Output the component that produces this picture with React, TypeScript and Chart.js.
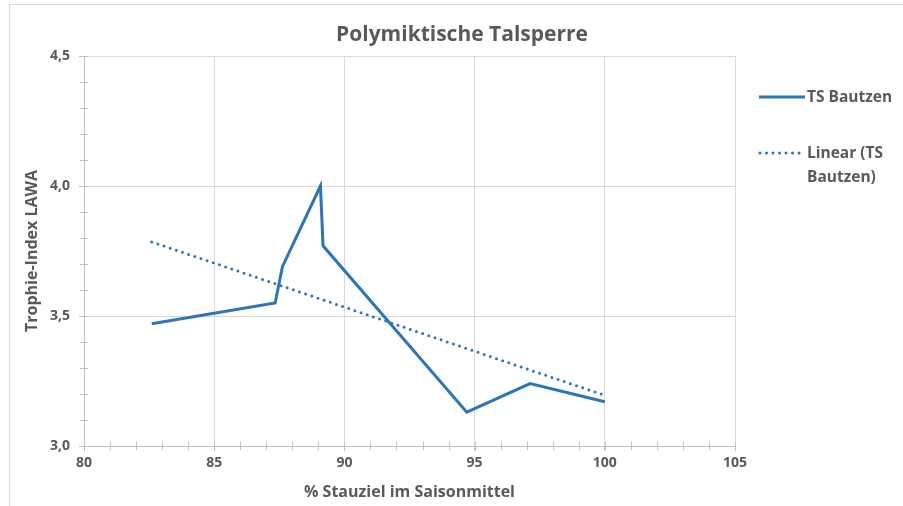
import React, { useEffect, useRef } from "react";
import { Chart, registerables } from "chart.js";

Chart.register(...registerables);

const TITLE = "Polymiktische Talsperre";
const X_TITLE = "% Stauziel im Saisonmittel";
const Y_TITLE = "Trophie-Index LAWA";
const SERIES_LABEL = "TS Bautzen";
const TREND_LABEL = ["Linear (TS", "Bautzen)"];

const stauziel = [82.6, 87.34, 87.62, 89.08, 89.18, 94.7, 97.13, 100.0];
const trophie = [3.47, 3.55, 3.69, 4.0, 3.77, 3.13, 3.24, 3.17];
const trendX = [82.6, 100.0];
const trendY = [3.785, 3.195];

const X_MIN = 80;
const X_MAX = 105;
const X_STEP = 5;
const X_MINOR = 1;
const Y_MIN = 3;
const Y_MAX = 4.5;
const Y_STEP = 0.5;
const Y_MINOR = 0.1;

const BLUE = "#2e75b6";
const TEXT = "#595959";
const GRID = "#d9d9d9";
const AXIS = "#bfbfbf";
const FONT = "'Open Sans', sans-serif";

const decorPlugin = {
  id: "decor",
  beforeDraw(chart: any) {
    const ctx = chart.ctx;
    ctx.save();
    ctx.fillStyle = "#ffffff";
    ctx.fillRect(0, 0, chart.width, chart.height);
    ctx.strokeStyle = GRID;
    ctx.lineWidth = 1;
    ctx.beginPath();
    ctx.moveTo(9.5, chart.height);
    ctx.lineTo(9.5, 4.5);
    ctx.lineTo(chart.width, 4.5);
    ctx.stroke();
    ctx.restore();
  },
  afterDraw(chart: any) {
    const ctx = chart.ctx;
    const xs = chart.scales.x;
    const ys = chart.scales.y;
    const area = chart.chartArea;
    ctx.save();
    // minor ticks
    ctx.strokeStyle = AXIS;
    ctx.lineWidth = 1;
    ctx.beginPath();
    const nY = Math.round((Y_MAX - Y_MIN) / Y_MINOR);
    for (let i = 0; i <= nY; i++) {
      const v = Y_MIN + i * Y_MINOR;
      const py = Math.round(ys.getPixelForValue(v)) + 0.5;
      ctx.moveTo(area.left - 4, py);
      ctx.lineTo(area.left + 4, py);
    }
    const nX = Math.round((X_MAX - X_MIN) / X_MINOR);
    for (let i = 0; i <= nX; i++) {
      const v = X_MIN + i * X_MINOR;
      const px = Math.round(xs.getPixelForValue(v)) + 0.5;
      ctx.moveTo(px, area.bottom - 4);
      ctx.lineTo(px, area.bottom + 4);
    }
    ctx.stroke();

    // title
    ctx.fillStyle = TEXT;
    ctx.font = `bold 21px ${FONT}`;
    ctx.textAlign = "center";
    ctx.textBaseline = "middle";
    ctx.fillText(TITLE, 462, 35);

    // legend
    const lx0 = 759;
    const lx1 = 805;
    ctx.font = `bold 15.5px ${FONT}`;
    ctx.textAlign = "left";
    ctx.lineWidth = 3;
    ctx.strokeStyle = BLUE;
    ctx.beginPath();
    ctx.moveTo(lx0, 97);
    ctx.lineTo(lx1, 97);
    ctx.stroke();
    ctx.fillText(SERIES_LABEL, 807, 98);

    ctx.lineCap = "round";
    ctx.setLineDash([0, 6.5]);
    ctx.beginPath();
    ctx.moveTo(lx0 + 1, 153);
    ctx.lineTo(lx1, 153);
    ctx.stroke();
    ctx.setLineDash([]);
    TREND_LABEL.forEach((t, i) => ctx.fillText(t, 807, 154 + i * 24));
    ctx.restore();
  },
};

export default function App() {
  const ref = useRef<HTMLCanvasElement | null>(null);

  useEffect(() => {
    document.body.style.margin = "0";
    const canvas = ref.current;
    if (!canvas) return;
    const chart = new Chart(canvas, {
      type: "scatter",
      data: {
        datasets: [
          {
            label: SERIES_LABEL,
            data: stauziel.map((x, i) => ({ x, y: trophie[i] })),
            showLine: true,
            borderColor: BLUE,
            backgroundColor: BLUE,
            borderWidth: 3,
            pointRadius: 0,
            tension: 0,
            borderJoinStyle: "miter",
          },
          {
            label: TREND_LABEL.join(" "),
            data: trendX.map((x, i) => ({ x, y: trendY[i] })),
            showLine: true,
            borderColor: BLUE,
            backgroundColor: BLUE,
            borderWidth: 3,
            borderDash: [0, 6.5],
            borderCapStyle: "round",
            pointRadius: 0,
          },
        ],
      },
      options: {
        animation: false,
        responsive: false,
        devicePixelRatio: 1,
        layout: { padding: { left: 10, top: 56, right: 168, bottom: 0 } },
        plugins: {
          legend: { display: false },
          title: { display: false },
          tooltip: { enabled: false },
        },
        scales: {
          x: {
            type: "linear",
            min: X_MIN,
            max: X_MAX,
            ticks: {
              stepSize: X_STEP,
              color: TEXT,
              font: { family: FONT, size: 14, weight: "bold" },
              padding: 4,
            },
            grid: { color: GRID, tickColor: AXIS, tickLength: 5 },
            border: { color: AXIS },
            title: {
              display: true,
              text: X_TITLE,
              color: TEXT,
              font: { family: FONT, size: 16, weight: "bold" },
              padding: { top: 4, bottom: 4 },
            },
            afterFit(scale: any) {
              scale.height = 60;
            },
          },
          y: {
            type: "linear",
            min: Y_MIN,
            max: Y_MAX,
            ticks: {
              stepSize: Y_STEP,
              color: TEXT,
              font: { family: FONT, size: 14, weight: "bold" },
              padding: 9,
              callback: (v: any) => Number(v).toFixed(1).replace(".", ","),
            },
            grid: { color: GRID, tickColor: AXIS, tickLength: 5 },
            border: { color: AXIS },
            title: {
              display: true,
              text: Y_TITLE,
              color: TEXT,
              font: { family: FONT, size: 16, weight: "bold" },
              padding: { top: 13, bottom: 0 },
            },
            afterFit(scale: any) {
              scale.width = 74;
            },
          },
        },
      },
      plugins: [decorPlugin],
    });
    return () => chart.destroy();
  }, []);

  return <canvas ref={ref} width={903} height={506} style={{ display: "block" }} />;
}
